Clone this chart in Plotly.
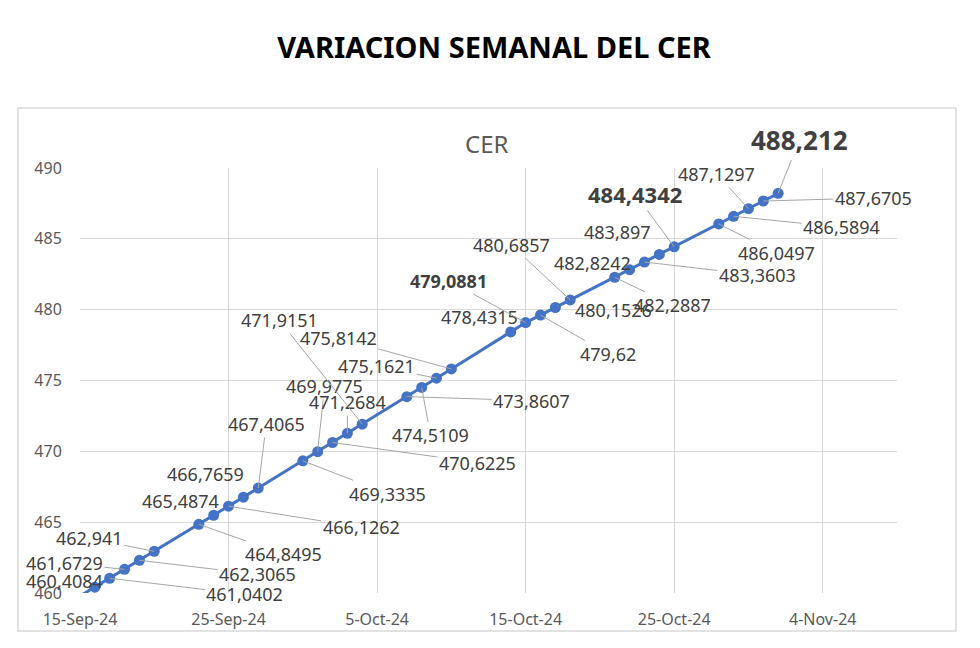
import plotly.graph_objects as go

# ---- data ----
dates = [
    "2024-09-13",
    "2024-09-16", "2024-09-17", "2024-09-18", "2024-09-19", "2024-09-20",
    "2024-09-23", "2024-09-24", "2024-09-25", "2024-09-26", "2024-09-27",
    "2024-09-30", "2024-10-01", "2024-10-02", "2024-10-03", "2024-10-04",
    "2024-10-07", "2024-10-08", "2024-10-09", "2024-10-10",
    "2024-10-14", "2024-10-15", "2024-10-16", "2024-10-17", "2024-10-18",
    "2024-10-21", "2024-10-22", "2024-10-23", "2024-10-24", "2024-10-25",
    "2024-10-28", "2024-10-29", "2024-10-30", "2024-10-31", "2024-11-01",
]
cer = [
    458.52,
    460.4084, 461.0402, 461.6729, 462.3065, 462.941,
    464.8495, 465.4874, 466.1262, 466.7659, 467.4065,
    469.3335, 469.9775, 470.6225, 471.2684, 471.9151,
    473.8607, 474.5109, 475.1621, 475.8142,
    478.4315, 479.0881, 479.62, 480.1526, 480.6857,
    482.2887, 482.8242, 483.3603, 483.897, 484.4342,
    486.0497, 486.5894, 487.1297, 487.6705, 488.212,
]
x_ticks_start = "2024-09-15"
x_range = ["2024-09-15", "2024-11-09"]
y_range = [460, 490]

# label layout (pixel offsets of the label centre from its point, leader shown?, size, bold)
label_layout = [
    None,
    (-30, -6, False, 18, False), (135, 16, True, 18, False), (-60, -6, True, 18, False),
    (118, 14, True, 18, False), (-65, -13, True, 18, False),
    (85, 30, True, 18, False), (-33, -14, False, 18, False), (133, 21, True, 18, False),
    (-38, -23, False, 18, False), (8, -64, True, 18, False),
    (85, 33, True, 18, False), (7, -66, True, 18, False), (145, 20, True, 18, False),
    (0, -31, True, 18, False), (-83, -104, True, 18, False),
    (125, 4, True, 18, False), (9, 48, True, 18, False), (-60, -12, True, 18, False),
    (-113, -31, True, 18, False),
    (-31, -15, False, 18, False), (-77, -42, True, 18, True), (68, 39, True, 18, False),
    (58, 2, False, 18, False), (-59, -55, True, 18, False),
    (58, 28, True, 18, False), (-37, -7, False, 18, False), (113, 13, True, 18, False),
    (-42, -22, False, 18, False), (-39, -53, True, 22, True),
    (58, 29, True, 18, False), (108, 11, True, 18, False), (-32, -35, True, 18, False),
    (110, -3, True, 18, False), (21, -53, True, 26, True),
]

FONT = "Noto Sans"
BLUE = "#4472C4"

fig = go.Figure()
fig.add_trace(go.Scatter(
    x=dates, y=cer, mode="lines+markers",
    line=dict(color=BLUE, width=3),
    marker=dict(color=BLUE, size=11),
    hoverinfo="x+y", showlegend=False,
))

annotations = []
for d, v, lay in zip(dates, cer, label_layout):
    if lay is None:
        continue
    ax, ay, leader, size, bold = lay
    txt = repr(v).replace(".", ",")
    if bold:
        txt = f"<b>{txt}</b>"
    annotations.append(dict(
        x=d, y=v, xref="x", yref="y", text=txt,
        showarrow=True, ax=ax, ay=ay, axref="pixel", ayref="pixel",
        arrowhead=0, arrowwidth=1,
        arrowcolor="#A6A6A6" if leader else "rgba(0,0,0,0)",
        font=dict(family=FONT, size=size, color="#404040"),
        xanchor="center", yanchor="middle",
    ))

annotations.append(dict(
    x=0.498, y=1.0565, xref="paper", yref="paper", text="CER",
    showarrow=False, font=dict(family=FONT, size=24, color="#595959"),
    xanchor="center", yanchor="middle",
))

# the page body has an 8px default margin, so the figure is made 8px smaller
fig.update_layout(
    width=972, height=640,
    margin=dict(l=72, r=83, t=160, b=55),
    paper_bgcolor="white", plot_bgcolor="white",
    title=dict(
        text="<b>VARIACION SEMANAL DEL CER</b>",
        x=0.5, xanchor="center", y=1 - 40 / 640, yanchor="middle",
        yref="container",
        font=dict(family=FONT, size=29, color="black"),
    ),
    annotations=annotations,
    shapes=[dict(
        type="rect", xref="paper", yref="paper",
        x0=-0.0759, x1=1.0722, y0=-0.0894, y1=1.1412,
        line=dict(color="#D9D9D9", width=1.5), fillcolor="rgba(0,0,0,0)",
        layer="below",
    )],
    xaxis=dict(
        type="date", range=x_range,
        tick0=x_ticks_start, dtick=10 * 86400000,
        tickformat="%-d-%b-%y",
        showgrid=True, gridcolor="#D9D9D9", gridwidth=1,
        zeroline=False, showline=False,
        ticks="outside", ticklen=12, tickcolor="rgba(0,0,0,0)",
        tickfont=dict(family=FONT, size=16, color="#595959"),
    ),
    yaxis=dict(
        range=y_range, dtick=5, tick0=460,
        showgrid=True, gridcolor="#D9D9D9", gridwidth=1,
        zeroline=False, showline=False,
        ticks="outside", ticklen=14, tickcolor="rgba(0,0,0,0)",
        tickfont=dict(family=FONT, size=16, color="#595959"),
    ),
)

fig.write_html("out.html")
